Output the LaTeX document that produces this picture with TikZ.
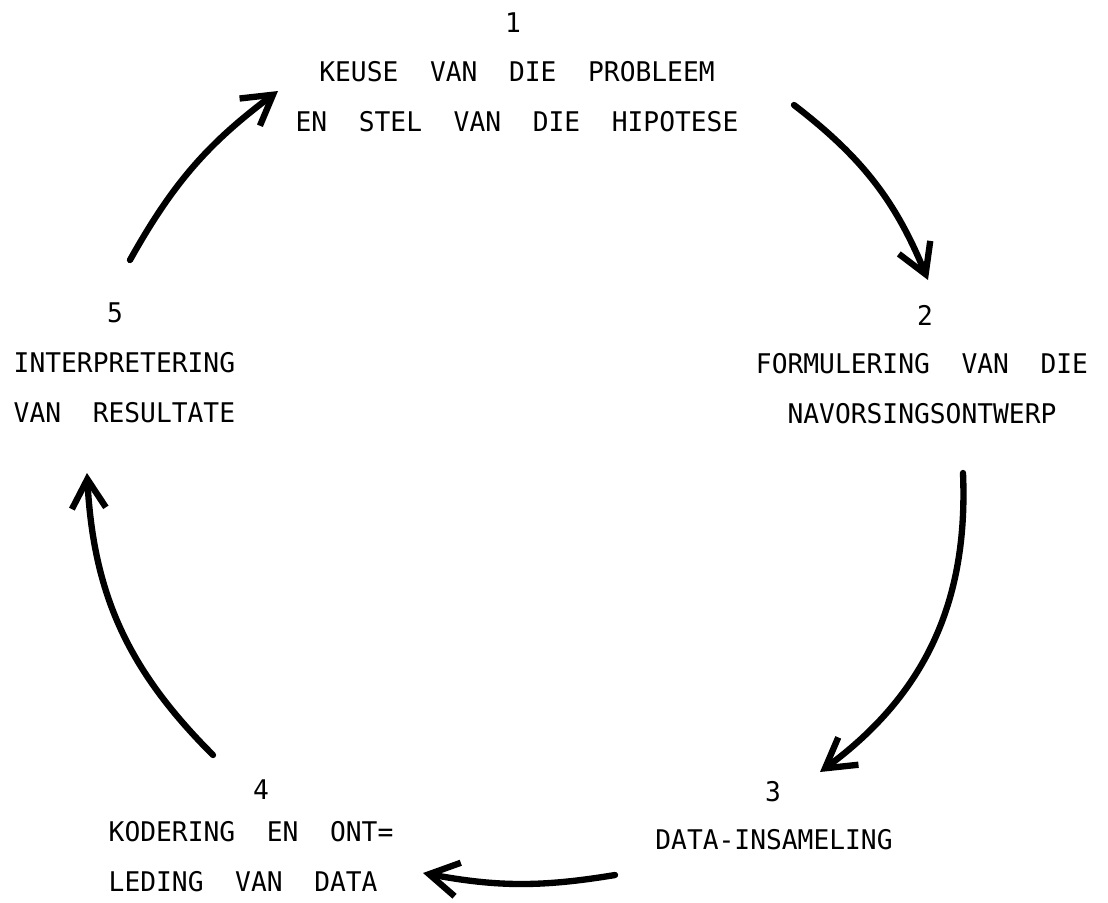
\documentclass[tikz,border=0pt]{standalone}
\usepackage{fontspec}
\usetikzlibrary{arrows.meta}
\newfontfamily\typefont{DejaVu Sans Mono}[FakeStretch=0.97]

\tikzset{
  lbl/.style={font=\typefont\fontsize{7.7pt}{14.2pt}\selectfont, inner sep=0pt},
  arr/.style={line width=1.8pt, line cap=round,
    -{Straight Barb[length=0.29cm, width=0.34cm, line width=1.8pt]}}
}

\begin{document}
\begin{tikzpicture}[x=0.01cm, y=-0.01cm]
            \useasboundingbox (0,0) rectangle (1108,902);

            \node[lbl] (n1) at (513,23) {1};
            \node[lbl, align=center] (t1) at (517,97) {KEUSE~~VAN~~DIE~~PROBLEEM\\EN~~STEL~~VAN~~DIE~~HIPOTESE};
            \node[lbl] (n2) at (925,315) {2};
            \node[lbl, align=center] (t2) at (922,389) {FORMULERING~~VAN~~DIE\\NAVORSINGSONTWERP};
            \node[lbl] (n3) at (773,792) {3};
            \node[lbl] (t3) at (774,840) {DATA-INSAMELING};
            \node[lbl] (n4) at (261,790) {4};
            \node[lbl, align=left, anchor=west] (t4) at (108,857) {KODERING~~EN~~ONT=\\LEDING~~VAN~~DATA};
            \node[lbl] (n5) at (115,313) {5};
            \node[lbl, align=left, anchor=west] (t5) at (13,388) {INTERPRETERING\\VAN~~RESULTATE};

            \coordinate (s12) at (794,105);
            \coordinate (e12) at (928,280);
            \coordinate (s23) at (963,473);
            \coordinate (e23) at (820,772);
            \coordinate (s34) at (615,875);
            \coordinate (e34) at (423,873);
            \coordinate (s45) at (213,755);
            \coordinate (e45) at (87,473);
            \coordinate (s51) at (130,260);
            \coordinate (e51) at (278,91);

            \draw[arr] (s12) to[bend left=15] (e12);
            \draw[arr] (s23) to[bend left=28] (e23);
            \draw[arr] (s34) to[bend left=10] (e34);
            \draw[arr] (s45) to[bend left=21] (e45);
            \draw[arr] (s51) to[bend left=12] (e51);
        \end{tikzpicture}
\end{document}
